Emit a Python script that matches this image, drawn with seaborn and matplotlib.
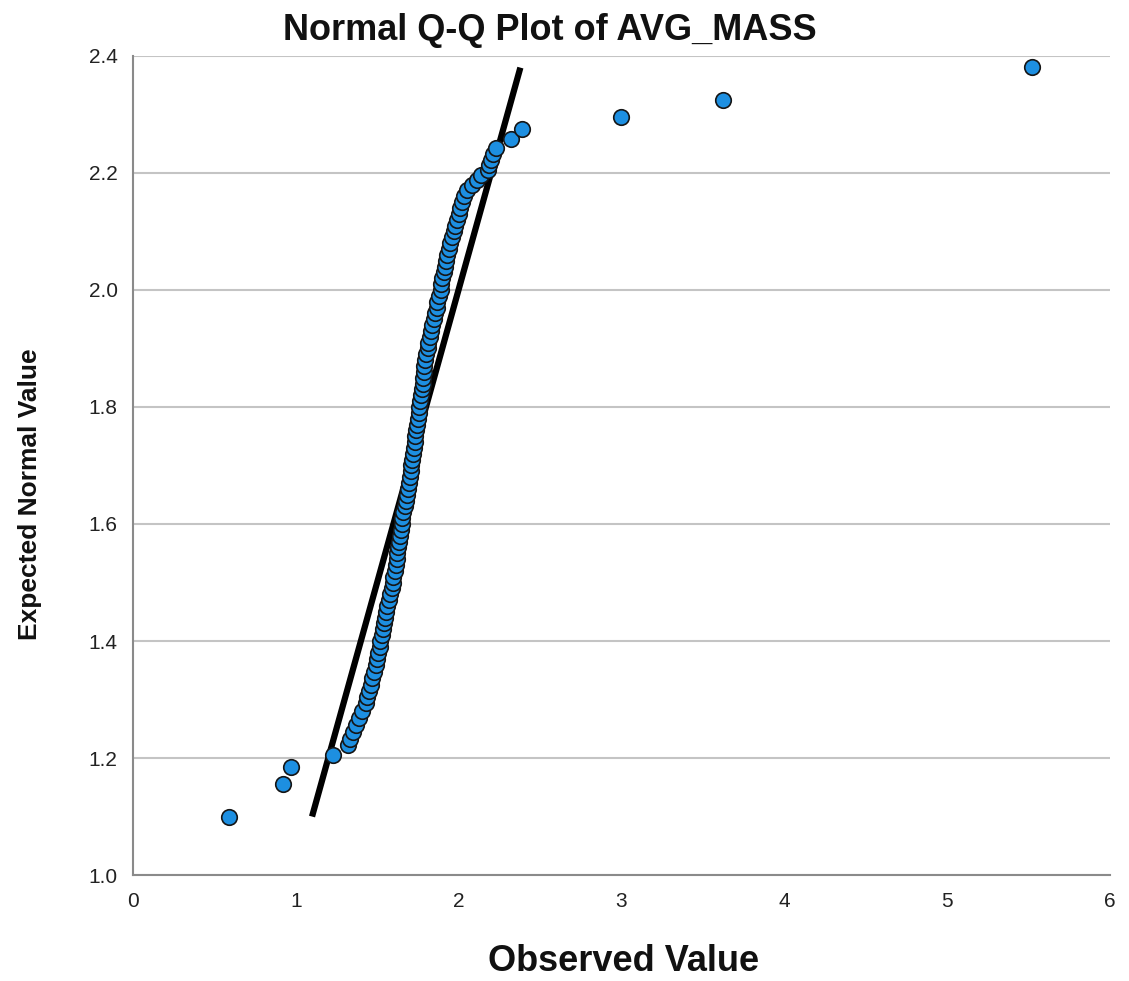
import matplotlib
matplotlib.use("Agg")
import matplotlib.pyplot as plt
import seaborn as sns
import pandas as pd

observed_value = [
    0.59, 0.92, 0.97, 1.23, 1.32, 1.335, 1.35, 1.37, 1.39, 1.41, 1.43, 1.44, 1.45, 1.46,
    1.47, 1.48, 1.49, 1.50, 1.505, 1.515, 1.52, 1.53, 1.535, 1.54, 1.55, 1.555, 1.56,
    1.57, 1.58, 1.59, 1.595, 1.60, 1.61, 1.615, 1.62, 1.625, 1.63, 1.635, 1.64, 1.645,
    1.65, 1.655, 1.66, 1.67, 1.675, 1.685, 1.69, 1.695, 1.70, 1.705, 1.71, 1.715, 1.72,
    1.725, 1.73, 1.735, 1.74, 1.745, 1.75, 1.755, 1.76, 1.765, 1.77, 1.775, 1.78, 1.78,
    1.785, 1.79, 1.795, 1.80, 1.81, 1.815, 1.825, 1.83, 1.84, 1.85, 1.855, 1.865, 1.87,
    1.88, 1.89, 1.895, 1.90, 1.91, 1.915, 1.925, 1.93, 1.94, 1.95, 1.96, 1.97, 1.98,
    1.99, 2.00, 2.01, 2.02, 2.035, 2.055, 2.08, 2.115, 2.14, 2.18, 2.19, 2.20, 2.21,
    2.23, 2.32, 2.39, 3.00, 3.625, 5.526,
]
expected_normal = [
    1.099, 1.156, 1.185, 1.205, 1.222, 1.233, 1.244, 1.256, 1.268, 1.281, 1.294, 1.305,
    1.315, 1.325, 1.336, 1.347, 1.359, 1.370, 1.380, 1.390, 1.400, 1.410, 1.420, 1.430,
    1.440, 1.450, 1.460, 1.470, 1.480, 1.490, 1.500, 1.510, 1.520, 1.530, 1.540, 1.550,
    1.560, 1.570, 1.580, 1.590, 1.600, 1.610, 1.620, 1.630, 1.640, 1.650, 1.660, 1.670,
    1.680, 1.690, 1.700, 1.710, 1.720, 1.730, 1.740, 1.750, 1.760, 1.770, 1.780, 1.790,
    1.800, 1.810, 1.820, 1.830, 1.840, 1.850, 1.860, 1.870, 1.880, 1.890, 1.900, 1.910,
    1.920, 1.930, 1.940, 1.950, 1.960, 1.970, 1.980, 1.990, 2.000, 2.010, 2.020, 2.030,
    2.040, 2.050, 2.060, 2.070, 2.080, 2.090, 2.100, 2.110, 2.120, 2.130, 2.140, 2.150,
    2.160, 2.170, 2.180, 2.188, 2.197, 2.205, 2.213, 2.222, 2.232, 2.243, 2.258, 2.275,
    2.296, 2.325, 2.381,
]
ref_line_x = [1.10, 2.38]
ref_line_y = [1.10, 2.38]

x_ticks = [0, 1, 2, 3, 4, 5, 6]
y_ticks = [1.0, 1.2, 1.4, 1.6, 1.8, 2.0, 2.2, 2.4]
y_tick_labels = ["1.0", "1.2", "1.4", "1.6", "1.8", "2.0", "2.2", "2.4"]

title = "Normal Q-Q Plot of AVG_MASS"
x_label = "Observed Value"
y_label = "Expected Normal Value"

sns.set_style("white")
plt.rcParams["font.family"] = ["Liberation Sans", "DejaVu Sans"]

df = pd.DataFrame({"observed": observed_value, "expected": expected_normal})
line_df = pd.DataFrame({"x": ref_line_x, "y": ref_line_y})

fig = plt.figure(figsize=(11.29, 9.81), dpi=100)
ax = fig.add_axes([0.1178, 0.108, 0.865, 0.835])

ax.set_xlim(0, 6)
ax.set_ylim(1.0, 2.4)
ax.set_yticks(y_ticks)
ax.set_yticklabels(y_tick_labels)
ax.set_xticks(x_ticks)
ax.yaxis.grid(True, color="#c4c4c4", linewidth=1.5, zorder=0)
ax.xaxis.grid(False)
ax.set_axisbelow(True)

sns.scatterplot(data=df, x="observed", y="expected", ax=ax, s=125,
                color="#1d8fe1", edgecolor="#151515", linewidth=1.2, zorder=3,
                clip_on=False)
sns.lineplot(data=line_df, x="x", y="y", ax=ax, color="black", linewidth=4.5,
             zorder=2, solid_capstyle="butt")

for side in ["top", "right"]:
    ax.spines[side].set_visible(False)
for side in ["left", "bottom"]:
    ax.spines[side].set_color("#8a8a8a")
    ax.spines[side].set_linewidth(1.5)

ax.tick_params(axis="both", length=0, labelsize=15, labelcolor="#222222")
ax.tick_params(axis="x", pad=12)
ax.tick_params(axis="y", pad=11)
ax.set_xlabel("")
ax.set_ylabel("")

fig.text(0.487, 0.969, title, ha="center", va="center", fontsize=26,
         fontweight="bold", color="#111111")
fig.text(0.552, 0.0194, x_label, ha="center", va="center", fontsize=26,
         fontweight="bold", color="#111111")
fig.text(0.027, 0.496, y_label, ha="center", va="center", fontsize=19,
         fontweight="bold", rotation=90, color="#111111")

fig.savefig("out.png", dpi=100)
